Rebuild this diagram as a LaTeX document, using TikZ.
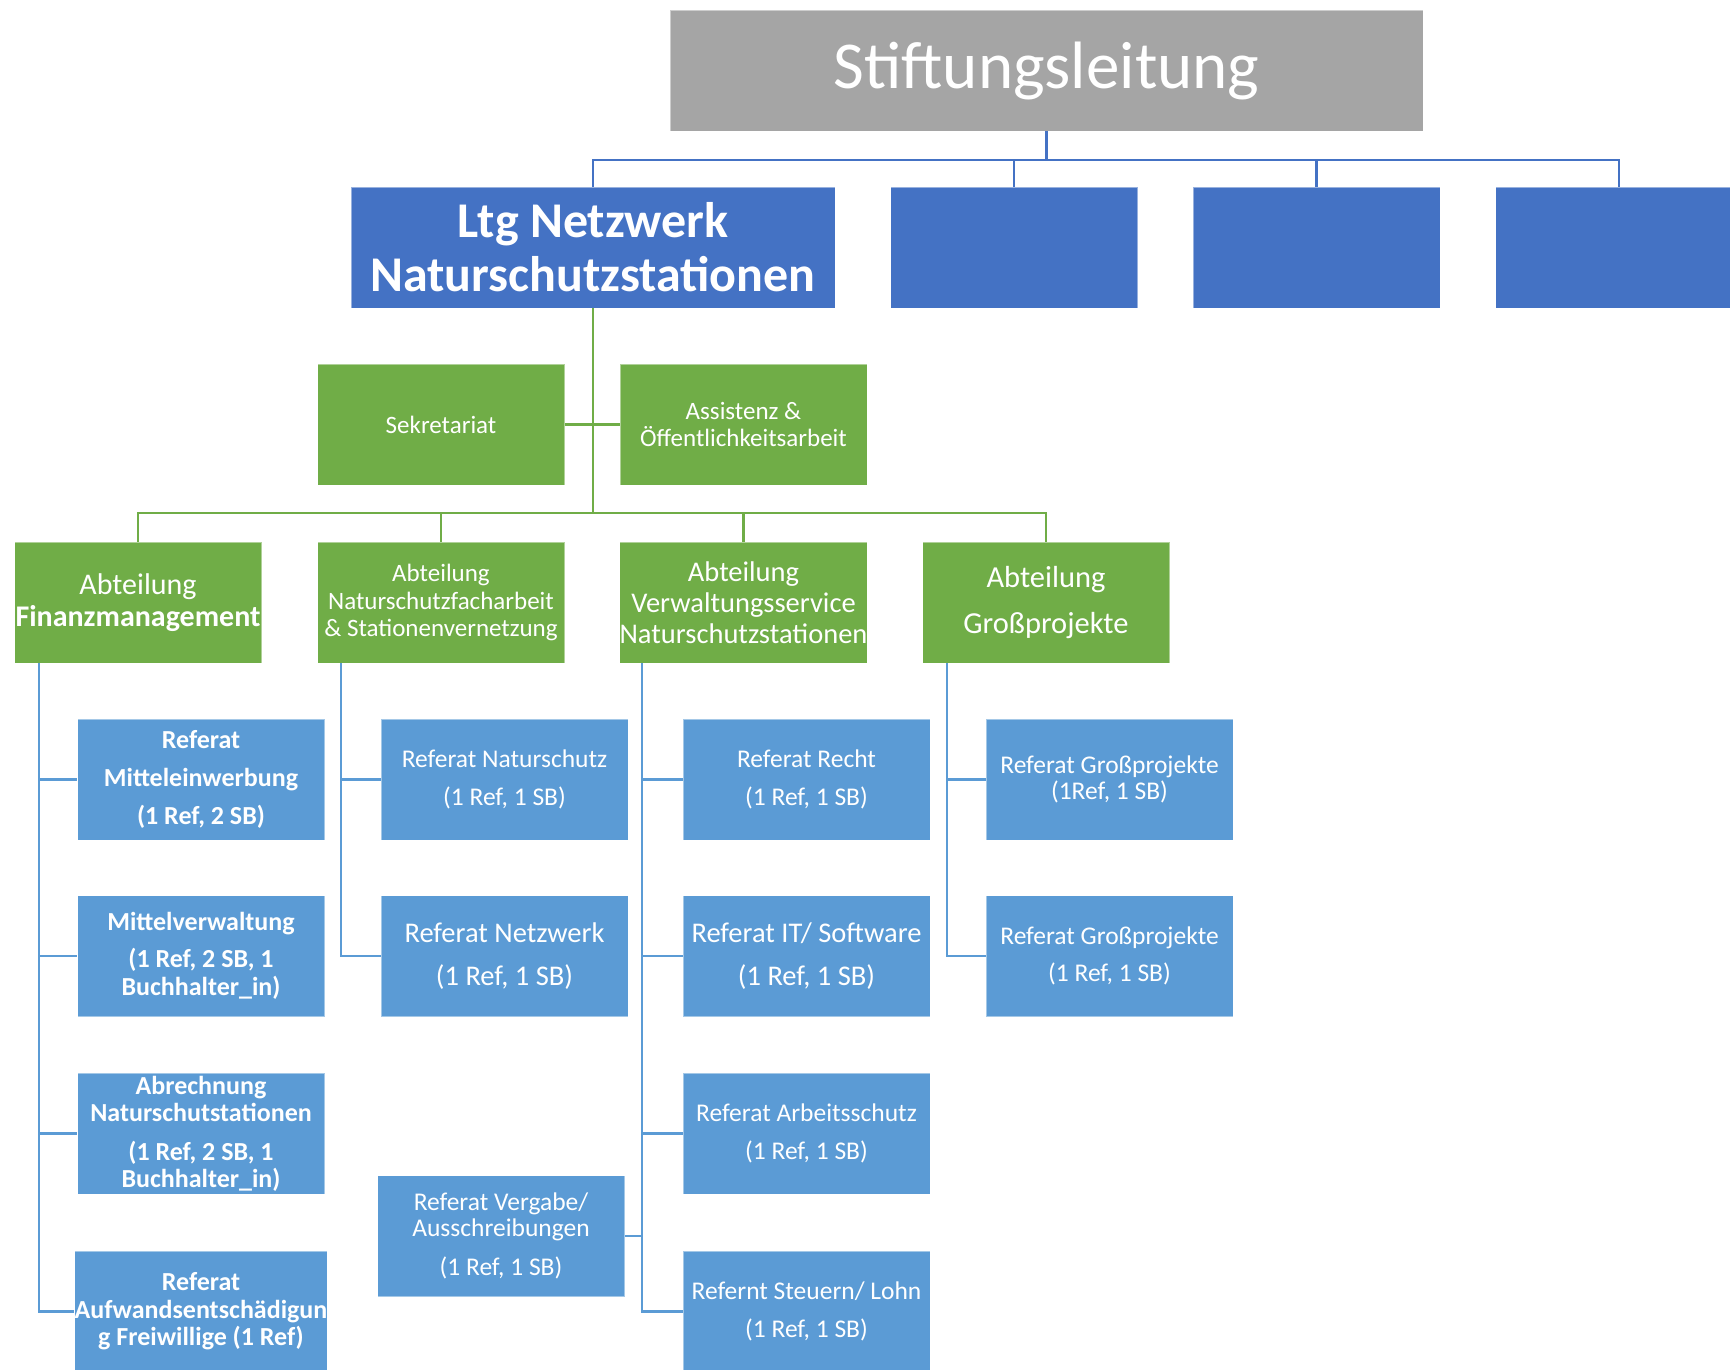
\documentclass[tikz,border=0pt]{standalone}
\usepackage{fontspec}
\setmainfont{Carlito}
\definecolor{grayc}{HTML}{A5A5A5}
\definecolor{dblue}{HTML}{4472C4}
\definecolor{greenc}{HTML}{70AD47}
\definecolor{lblue}{HTML}{5B9BD5}
\newcommand\myfs[2]{\fontsize{#1pt}{#2pt}\selectfont}
\tikzset{
  box/.style={rectangle, inner sep=0pt, minimum width=247pt, minimum height=121pt,
    text=white, align=center, draw=white, draw opacity=0.45, line width=0.8pt},
  grayb/.style={box, fill=grayc},
  dbb/.style={box, fill=dblue},
  grb/.style={box, fill=greenc},
  lbb/.style={box, fill=lblue},
  topline/.style={draw=dblue, line width=2.6pt},
  gline/.style={draw=greenc, line width=2.6pt},
  lline/.style={draw=lblue, line width=2.6pt},
}
\begin{document}
\begin{tikzpicture}[x=1pt, y=-1pt]
\clip (0,0) rectangle (1730,1369);
\fill[white] (0,0) rectangle (1730,1369);
% top level
\node[grayb, minimum width=753pt, font={\myfs{67}{70}}] (stift) at (1046.5,70.5) {Stiftungsleitung};
\node[dbb, minimum width=484pt, font={\myfs{50}{54}\bfseries}] (ltg) at (593,247.5) {Ltg Netzwerk\\Naturschutzstationen};
\node[dbb] (b2) at (1014,247.5) {};
\node[dbb] (b3) at (1316.5,247.5) {};
\node[dbb] (b4) at (1619,247.5) {};
\coordinate (tb) at (1046,160);
\draw[topline] (stift.south) -- (stift.south |- tb);
\draw[topline] (ltg.north) |- (b4.north |- tb) -- (b4.north);
\draw[topline] (b2.north) -- (b2.north |- tb);
\draw[topline] (b3.north) -- (b3.north |- tb);
% staff
\node[grb, font={\myfs{25}{27.5}}] (sek) at (441,424.5) {Sekretariat};
\node[grb, font={\myfs{25}{27.5}}] (ass) at (743.5,424.5) {Assistenz \&\\Öffentlichkeitsarbeit};
\draw[gline] (sek.east) -- (ass.west);
% departments
\node[grb, font={\myfs{30}{32}}] (d1) at (138,602.5) {Abteilung\\\textbf{Finanzmanagement}};
\node[grb, font={\myfs{25}{27.5}}] (d2) at (441,602.5) {Abteilung\\Naturschutzfacharbeit\\\& Stationenvernetzung};
\node[grb, font={\myfs{28.5}{31}}] (d3) at (743.5,602.5) {Abteilung\\Verwaltungsservice\\Naturschutzstationen};
\node[grb, font={\myfs{30.5}{32}}] (d4) at (1046,602.5) {Abteilung\\[14pt]Großprojekte};
\coordinate (gb) at (592,513);
\draw[gline] (ltg.south) -- (ltg.south |- gb);
\draw[gline] (d1.north) |- (d4.north |- gb) -- (d4.north);
\draw[gline] (d2.north) -- (d2.north |- gb);
\draw[gline] (d3.north) -- (d3.north |- gb);
% column 1
\node[lbb, font={\myfs{26}{29}\bfseries}] (r11) at (201,779.5) {Referat\\[9pt]Mitteleinwerbung\\[9pt](1 Ref, 2 SB)};
\node[lbb, font={\myfs{26}{28}\bfseries}] (r12) at (201,956) {Mittelverwaltung\\[9pt](1 Ref, 2 SB, 1\\Buchhalter\_in)};
\node[lbb, font={\myfs{26}{27}\bfseries}] (r13) at (201,1133.5) {Abrechnung\\Naturschutstationen\\[12pt](1 Ref, 2 SB, 1\\Buchhalter\_in)};
\node[lbb, font={\myfs{26}{27.5}\bfseries}] (r14) at (201,1311.5) {Referat\\Aufwandsentschädigun\\g Freiwillige (1 Ref)};
\foreach \n in {r11,r12,r13,r14}
  \draw[lline] ([xshift=25pt]d1.south west) |- (\n.west);
% column 2
\node[lbb, font={\myfs{25.5}{29}}] (r21) at (504.5,779.5) {Referat Naturschutz\\[9pt](1 Ref, 1 SB)};
\node[lbb, font={\myfs{28.5}{33}}] (r22) at (504.5,956) {Referat Netzwerk\\[10pt](1 Ref, 1 SB)};
\foreach \n in {r21,r22}
  \draw[lline] ([xshift=24pt]d2.south west) |- (\n.west);
\node[lbb, font={\myfs{25.5}{26}}] (verg) at (501,1236) {Referat Vergabe/\\Ausschreibungen\\[13pt](1 Ref, 1 SB)};
% column 3
\node[lbb, font={\myfs{25.5}{29}}] (r31) at (806.5,779.5) {Referat Recht\\[9pt](1 Ref, 1 SB)};
\node[lbb, font={\myfs{28.5}{33}}] (r32) at (806.5,956) {Referat IT/ Software\\[10pt](1 Ref, 1 SB)};
\node[lbb, font={\myfs{25.5}{29}}] (r33) at (806.5,1133.5) {Referat Arbeitsschutz\\[9pt](1 Ref, 1 SB)};
\node[lbb, font={\myfs{25.5}{29}}] (r34) at (806.5,1311.5) {Refernt Steuern/ Lohn\\[9pt](1 Ref, 1 SB)};
\foreach \n in {r31,r32,r33,r34}
  \draw[lline] ([xshift=23pt]d3.south west) |- (\n.west);
\draw[lline] ([xshift=23pt]d3.south west) |- (verg.east);
% column 4
\node[lbb, font={\myfs{25.5}{26.5}}] (r41) at (1109.5,779.5) {Referat Großprojekte\\(1Ref, 1 SB)};
\node[lbb, font={\myfs{25.5}{29}}] (r42) at (1109.5,956) {Referat Großprojekte\\[8.5pt](1 Ref, 1 SB)};
\foreach \n in {r41,r42}
  \draw[lline] ([xshift=25pt]d4.south west) |- (\n.west);
\end{tikzpicture}
\end{document}
